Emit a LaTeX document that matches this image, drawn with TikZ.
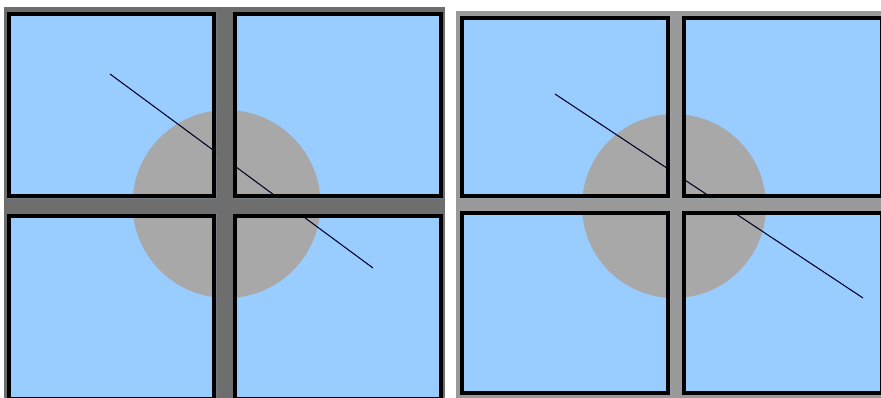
\documentclass[tikz,border=0pt]{standalone}
\usepackage{tikz}
\usetikzlibrary{positioning}

\definecolor{paneblue}{RGB}{153,204,255}
\definecolor{spotgray}{RGB}{168,168,168}
\definecolor{mulliondark}{RGB}{110,110,110}
\definecolor{mullionlight}{RGB}{153,153,153}

\begin{document}
\begin{tikzpicture}[
	x=0.03cm, y=-0.03cm,
	panefill/.style={fill=paneblue},
	paneedge/.style={draw=black, line width=0.12cm},
	spot/.style={fill=spotgray},
	ray/.style={draw=black!85!blue, line width=0.9pt}
]
\useasboundingbox (0,0) rectangle (881,397);
\clip (0,0) rectangle (881,397);

% left wall: wide gaps
\fill[mulliondark] (4,7) rectangle (445,402);
\begin{scope}
	\clip (7,12) rectangle (216,198) (233,12) rectangle (443,198)
	      (7,214) rectangle (216,401) (233,214) rectangle (443,401);
	\fill[panefill] (7,12) rectangle (443,401);
	\fill[spot] (226.5,204) circle (94);
	\draw[ray] (110,74) -- (373,268);
\end{scope}
\draw[paneedge] (9,14) rectangle (214,196);
\draw[paneedge] (235,14) rectangle (441,196);
\draw[paneedge] (9,216) rectangle (214,399);
\draw[paneedge] (235,216) rectangle (441,399);

% right wall: narrow gaps
\fill[mullionlight] (456,11) rectangle (885,402);
\begin{scope}
	\clip (460,16) rectangle (670,198) (682,16) rectangle (884,198)
	      (460,211) rectangle (670,395) (682,211) rectangle (884,395);
	\fill[panefill] (460,16) rectangle (884,395);
	\fill[spot] (674,206) circle (92);
	\draw[ray] (555,94) -- (863,298);
\end{scope}
\draw[paneedge] (462,18) rectangle (668,196);
\draw[paneedge] (684,18) rectangle (882,196);
\draw[paneedge] (462,213) rectangle (668,393);
\draw[paneedge] (684,213) rectangle (882,393);
\end{tikzpicture}
\end{document}
